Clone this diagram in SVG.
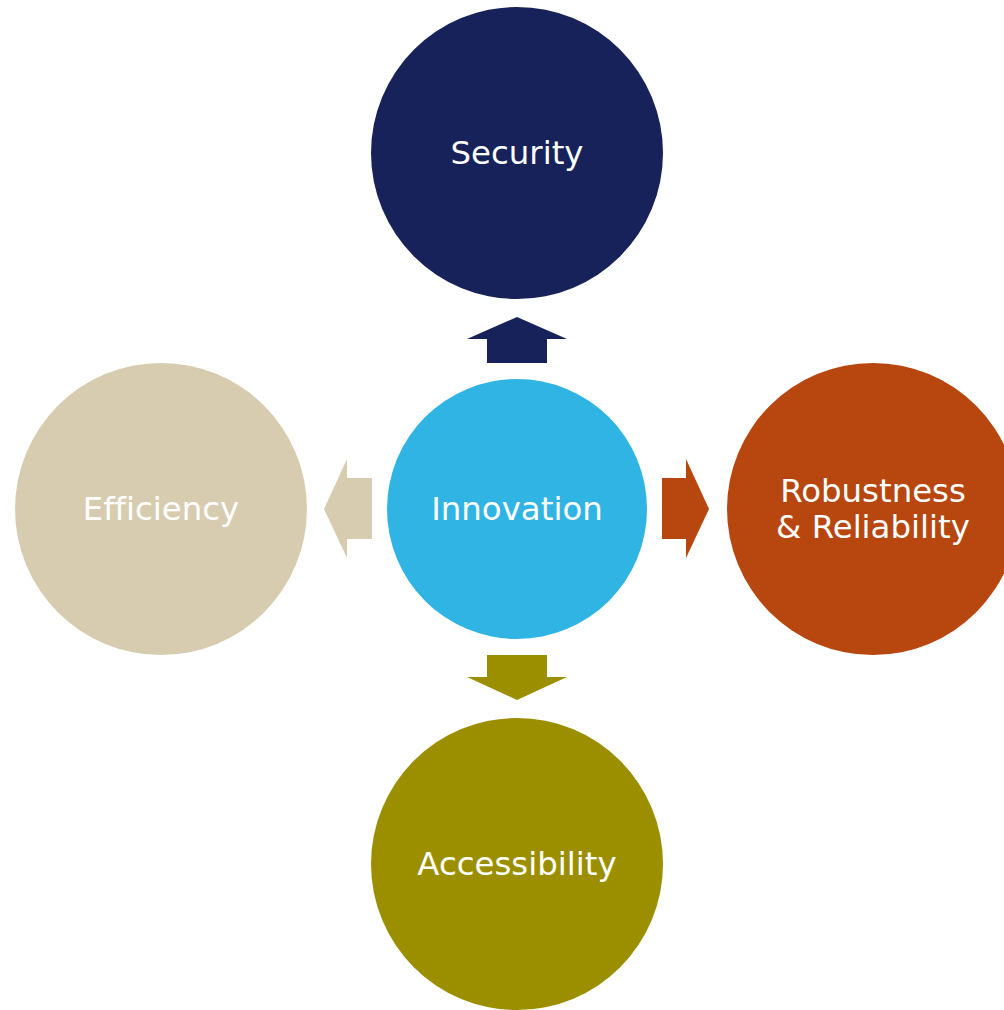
<svg xmlns="http://www.w3.org/2000/svg" width="1004" height="1010" viewBox="0 0 1004 1010">
  <style>
    .label { font-family: "DejaVu Sans", Verdana, sans-serif; font-size: 32.4px; fill: #ffffff; text-anchor: middle; font-variant-ligatures: none; }
  </style>
  <rect width="1004" height="1010" fill="#ffffff"/>

  <g id="connectors">
    <!-- up: Innovation to Security -->
    <polygon fill="#17215a" points="517,317 567,339 547,339 547,363 487,363 487,339 467,339"/>
    <!-- right: Innovation to Robustness & Reliability -->
    <polygon fill="#b7460f" points="709,509 686,558 686,539 662,539 662,478 686,478 686,459"/>
    <!-- down: Innovation to Accessibility -->
    <polygon fill="#9b8f00" points="517,700 467,677 487,677 487,655 547,655 547,677 567,677"/>
    <!-- left: Innovation to Efficiency -->
    <polygon fill="#d8ccb0" points="324,509 347,459 347,478 372,478 372,539 347,539 347,558"/>
  </g>

  <g id="node-security">
    <circle cx="517" cy="153" r="146" fill="#17215a"/>
    <text class="label" x="517" y="164">Security</text>
  </g>

  <g id="node-innovation">
    <circle cx="517" cy="509" r="130" fill="#2fb4e3"/>
    <text class="label" x="517" y="520">Innovation</text>
  </g>

  <g id="node-efficiency">
    <circle cx="161" cy="509" r="146" fill="#d8ccb0"/>
    <text class="label" x="161" y="520">Efficiency</text>
  </g>

  <g id="node-robustness">
    <circle cx="873" cy="509" r="146" fill="#b7460f"/>
    <text class="label" x="873" y="502">Robustness</text>
    <text class="label" x="873" y="538">&amp; Reliability</text>
  </g>

  <g id="node-accessibility">
    <circle cx="517" cy="864" r="146" fill="#9b8f00"/>
    <text class="label" x="517" y="875">Accessibility</text>
  </g>
</svg>
